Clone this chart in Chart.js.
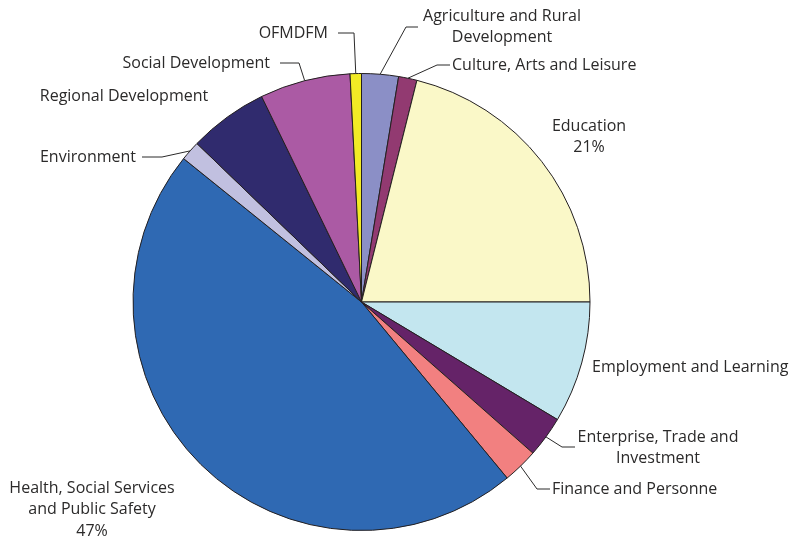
<!DOCTYPE html>
<html>
<head>
<meta charset="utf-8">
<script src="https://cdn.jsdelivr.net/npm/chart.js@4"></script>
<style>
   html, body { margin: 0; padding: 0; background: #ffffff; }
   #wrap { width: 792px; height: 539px; position: relative; }
</style>
</head>
<body>
<div id="wrap"><canvas id="pie"></canvas></div>
<script>
// departments, clockwise from 12 o'clock
const departments = [
   ['Agriculture and Rural', 'Development'],
   'Culture, Arts and Leisure',
   'Education',
   'Employment and Learning',
   ['Enterprise, Trade and', 'Investment'],
   'Finance and Personne',
   ['Health, Social Services', 'and Public Safety'],
   'Environment',
   'Regional Development',
   'Social Development',
   'OFMDFM'
];

// share of spend, percent
const shares = [2.6, 1.3, 21.1, 8.6, 2.9, 2.5, 46.8, 1.4, 5.6, 6.4, 0.8];

const sliceColors = [
   '#8b8fc6', '#923a71', '#faf8c8', '#c3e6ef', '#652368', '#f28080',
   '#2f69b3', '#c1c0e0', '#302b6e', '#ab5aa4', '#f2eb25'
];

// where each label sits; elbow/end describe the leader line (null = no leader)
const labelLayout = [
   { x: 502, y: 16, align: 'center', elbow: [406, 27], end: [418, 27] },
   { x: 452, y: 65, align: 'left', elbow: [437, 65], end: [450, 65] },
   { x: 589, y: 126, align: 'center', pct: true },
   { x: 592, y: 367, align: 'left' },
   { x: 658, y: 437, align: 'center', elbow: [562, 447], end: [575, 447] },
   { x: 552, y: 489, align: 'left', elbow: [537, 489], end: [550, 489] },
   { x: 92, y: 488, align: 'center', pct: true },
   { x: 136, y: 157, align: 'right', elbow: [162, 157], end: [142, 157] },
   { x: 124, y: 96, align: 'center' },
   { x: 270, y: 63, align: 'right', elbow: [299, 63], end: [280, 63] },
   { x: 328, y: 33, align: 'right', elbow: [354, 33], end: [338, 33] }
];

const FONT = "16px 'Open Sans', sans-serif";
const LINE_H = 21.5;

let PieLabelsPlugin = {
   id: 'pielabels',
   afterDraw: (chart) => {
      const ctx = chart.ctx;
      const meta = chart.getDatasetMeta(0);
      const total = shares.reduce((a, b) => a + b, 0);

      ctx.save();
      ctx.font = FONT;
      ctx.fillStyle = '#2b2a2a';
      ctx.strokeStyle = '#2b2a2a';
      ctx.lineWidth = 1;
      ctx.textBaseline = 'middle';

      meta.data.forEach((arc, i) => {
         const lay = labelLayout[i];
         const p = arc.getProps(['x', 'y', 'startAngle', 'endAngle', 'outerRadius'], true);

         if (lay.elbow) {
            const mid = (p.startAngle + p.endAngle) / 2;
            const sx = p.x + Math.cos(mid) * p.outerRadius;
            const sy = p.y + Math.sin(mid) * p.outerRadius;
            ctx.beginPath();
            ctx.moveTo(sx, sy);
            ctx.lineTo(lay.elbow[0], lay.elbow[1]);
            ctx.lineTo(lay.end[0], lay.end[1]);
            ctx.stroke();
         }

         let lines = [].concat(departments[i]);
         if (lay.pct) {
            lines.push(Math.round(shares[i] / total * 100) + '%');
         }
         ctx.textAlign = lay.align;
         lines.forEach((txt, k) => {
            ctx.fillText(txt, lay.x, lay.y + k * LINE_H);
         });
      });
      ctx.restore();
   }
};

new Chart(document.getElementById('pie'), {
   type: 'pie',
   data: {
      labels: departments,
      datasets: [{
         data: shares,
         backgroundColor: sliceColors,
         borderColor: '#231f20',
         borderWidth: 1
      }]
   },
   options: {
      responsive: true,
      maintainAspectRatio: false,
      animation: false,
      events: [],
      layout: {
         padding: { left: 132.5, right: 201.5, top: 72.5, bottom: 7.5 }
      },
      plugins: {
         legend: { display: false },
         tooltip: { enabled: false }
      }
   },
   plugins: [PieLabelsPlugin]
});
</script>
</body>
</html>
